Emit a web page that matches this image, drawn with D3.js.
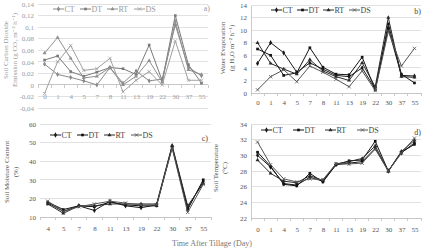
<!DOCTYPE html>
<meta charset="utf-8">
<style>
body { margin: 0; background: #fff; }
text { font-family: "Liberation Serif", "DejaVu Serif", serif; font-weight: normal; }
.grid line { stroke: #d9d9d9; stroke-width: 0.8; shape-rendering: crispEdges; }
.axis path, .axis line { fill: none; stroke: #bfbfbf; stroke-width: 0.8; shape-rendering: crispEdges; }
.series path.line { fill: none; stroke-width: 1; }
</style>
<body>
<script src="https://d3js.org/d3.v7.min.js"></script>
<script>

// categories
var days = ["0","1","4","5","7","8","11","13","19","22","30","37","55"];
var daysMoist = ["4","5","7","8","11","13","19","22","30","37","55"];
var seriesNames = ["CT","DT","RT","DS"];

// a) soil CO2 emission
var co2CT = [0.036, 0.018, 0.013, 0.007, 0.000, 0.030, 0.003, 0.024, 0.007, 0.010, 0.104, 0.030, 0.016];
var co2DT = [0.043, 0.050, 0.023, 0.015, 0.022, 0.030, 0.028, 0.018, 0.069, 0.007, 0.120, 0.035, 0.003];
var co2RT = [0.055, 0.082, 0.046, 0.012, 0.015, 0.030, 0.000, 0.015, 0.042, 0.005, 0.110, 0.026, 0.018];
var co2DS = [-0.015, 0.040, 0.068, 0.025, 0.028, 0.046, -0.012, 0.008, 0.023, 0.000, 0.076, 0.008, 0.008];
var co2Ticks = [-0.04, -0.02, 0, 0.02, 0.04, 0.06, 0.08, 0.1, 0.12, 0.14];

// b) water evaporation
var evapCT = [4.7, 8.0, 6.4, 3.3, 4.8, 3.8, 2.8, 2.6, 4.0, 0.6, 10.3, 2.8, 2.7];
var evapDT = [7.0, 6.0, 2.8, 3.2, 7.2, 4.1, 3.0, 2.9, 5.7, 0.5, 11.0, 3.0, 1.6];
var evapRT = [8.0, 4.7, 3.8, 3.0, 5.3, 3.5, 2.6, 2.0, 4.8, 1.0, 12.0, 2.6, 2.5];
var evapDS = [0.5, 2.6, 3.7, 1.8, 4.3, 3.3, 2.2, 1.0, 3.5, 0.4, 9.8, 4.3, 7.1];
var evapTicks = [0, 2, 4, 6, 8, 10, 12, 14];

// c) soil moisture
var moistCT = [17.5, 13.0, 16.0, 13.5, 18.5, 16.0, 15.0, 16.5, 48.0, 15.0, 29.0];
var moistDT = [18.0, 14.0, 16.0, 15.5, 18.0, 16.5, 16.0, 16.0, 47.5, 14.0, 30.0];
var moistRT = [17.0, 12.0, 16.0, 16.0, 17.0, 17.0, 17.0, 17.0, 48.5, 16.0, 28.0];
var moistDS = [18.5, 13.0, 15.5, 17.0, 18.5, 17.5, 16.5, 16.5, 47.0, 12.5, 27.5];
var moistTicks = [10, 20, 30, 40, 50, 60];

// d) soil temperature
var tempCT = [30.0, 28.5, 26.4, 26.2, 27.2, 26.7, 28.8, 29.0, 29.2, 30.9, 28.0, 30.3, 31.6];
var tempDT = [30.4, 28.6, 26.3, 26.1, 27.7, 26.6, 28.8, 29.3, 29.4, 31.8, 28.0, 30.4, 31.4];
var tempRT = [29.4, 27.7, 26.7, 26.5, 27.4, 26.8, 28.9, 29.2, 29.6, 31.2, 28.0, 30.5, 31.9];
var tempDS = [31.7, 28.8, 27.0, 26.6, 27.0, 26.9, 28.9, 28.9, 29.0, 30.8, 28.0, 30.3, 32.2];
var tempTicks = [22, 24, 26, 28, 30, 32, 34];

var W = 423, H = 250;
var svg = d3.select("body").append("svg").attr("width", W).attr("height", H);

var symbolTypes = {
  CT: d3.symbolDiamond,
  DT: d3.symbolSquare,
  RT: d3.symbolTriangle,
  DS: d3.symbolTimes || d3.symbolX
};
var symbolSizes = { CT: 8, DT: 7, RT: 7, DS: 9 };

function marker(sel, name, color) {
  sel.attr("d", d3.symbol().type(symbolTypes[name]).size(symbolSizes[name])())
    .attr("fill", name === "DS" ? "none" : color)
    .attr("stroke", name === "DS" ? color : "none")
    .attr("stroke-width", 0.8);
}

function drawPanel(p) {
  var x = d3.scalePoint().domain(p.cats).range([p.x0, p.x1]).padding(0.5);
  var y = d3.scaleLinear().domain([p.ticks[0], p.ticks[p.ticks.length - 1]]).range([p.y1, p.y0]);
  var g = svg.append("g");

  // gridlines
  g.append("g").attr("class", "grid")
    .selectAll("line").data(p.ticks).join("line")
    .attr("x1", p.x0).attr("x2", p.x1)
    .attr("y1", d => y(d)).attr("y2", d => y(d));

  // y axis
  var yAxis = d3.axisLeft(y).tickValues(p.ticks).tickSize(0).tickPadding(4)
    .tickFormat(p.fmt);
  var ya = g.append("g").attr("class", "axis")
    .attr("transform", `translate(${p.x0},0)`).call(yAxis);
  if (!p.yLine) ya.select(".domain").remove();
  ya.selectAll("text").style("font-size", "7px").attr("fill", p.textColor);

  // x axis at baseline
  var xBase = p.xAt !== undefined ? y(p.xAt) : p.y1;
  var xAxis = d3.axisBottom(x).tickSize(0).tickPadding(p.xPad);
  var xa = g.append("g").attr("class", "axis")
    .attr("transform", `translate(0,${xBase})`).call(xAxis);
  xa.select(".domain").attr("d", `M${p.x0},0H${p.x1}`);
  xa.selectAll("text").style("font-size", "7px").attr("fill", p.textColor);
  // small category separators
  var step = x.step();
  xa.selectAll(".sep").data(d3.range(p.cats.length + 1)).join("line")
    .attr("class", "sep")
    .attr("x1", i => p.x0 + i * step).attr("x2", i => p.x0 + i * step)
    .attr("y1", 0).attr("y2", 3);

  // series
  var line = d3.line().x((d, i) => x(p.cats[i])).y(d => y(d));
  seriesNames.forEach(function(name, k) {
    var vals = p.values[k];
    var s = g.append("g").attr("class", "series");
    s.append("path").attr("class", "line").attr("d", line(vals))
      .attr("stroke", p.colors[k]);
    s.selectAll("path.pt").data(vals).join("path")
      .attr("class", "pt")
      .attr("transform", (d, i) => `translate(${x(p.cats[i])},${y(d)})`)
      .call(marker, name, p.colors[k]);
  });

  // legend
  var lx = d3.scalePoint().domain(seriesNames).range([p.legX, p.legX + 3 * p.legStep]);
  var leg = g.selectAll(".leg").data(seriesNames).join("g")
    .attr("transform", d => `translate(${lx(d)},${p.legY})`);
  leg.append("line").attr("x1", 0).attr("x2", 11).attr("y1", 0).attr("y2", 0)
    .attr("stroke", (d, i) => p.colors[i]).attr("stroke-width", 1);
  leg.append("path").attr("transform", "translate(5.5,0)")
    .each(function(d, i) { d3.select(this).call(marker, d, p.colors[i]); });
  leg.append("text").attr("x", 11.5).attr("dy", "0.35em")
    .style("font-size", "8px").attr("fill", p.legColor).text(d => d);

  // panel letter
  g.append("text").attr("x", p.letX).attr("y", p.letY).attr("text-anchor", "end")
    .style("font-size", "8px").attr("fill", p.legColor).text(p.letter);

  // y title
  p.title.forEach(function(t, i) {
    g.append("text")
      .attr("transform", `translate(${p.titleX + i * 9},${p.titleY}) rotate(-90)`)
      .attr("text-anchor", "middle")
      .style("font-size", "7px").attr("fill", p.textColor).text(t);
  });
}

var comma = d => String(d).replace(".", ",");
var greyCols = ["#8a8a8a", "#7a7a7a", "#8f8f8f", "#a0a0a0"];
var darkCols = ["#1a1a1a", "#111111", "#2a2a2a", "#555555"];

drawPanel({
  cats: days, values: [co2CT, co2DT, co2RT, co2DS], ticks: co2Ticks, fmt: comma,
  x0: 38, x1: 208, y0: 4, y1: 108, xAt: 0, xPad: 9, yLine: false,
  colors: greyCols, textColor: "#9a9a9a", legColor: "#9a9a9a",
  legX: 53, legY: 9, legStep: 27, letter: "a)", letX: 210, letY: 11,
  title: ["Soil Carbon Dioxide", "Emission (g CO\u2082 m\u207B\u00B2 h\u207B\u00B9)"], titleX: 8, titleY: 50
});

drawPanel({
  cats: days, values: [evapCT, evapDT, evapRT, evapDS], ticks: evapTicks, fmt: d3.format("d"),
  x0: 251, x1: 421, y0: 5, y1: 93, xPad: 7, yLine: true,
  colors: darkCols, textColor: "#555", legColor: "#444",
  legX: 271, legY: 10, legStep: 26, letter: "b)", letX: 421, letY: 14,
  title: ["Water Evaporation", "(g H\u2082O m\u207B\u00B2 h\u207B\u00B9)"], titleX: 225, titleY: 48
});

drawPanel({
  cats: daysMoist, values: [moistCT, moistDT, moistRT, moistDS], ticks: moistTicks, fmt: d3.format("d"),
  x0: 40, x1: 211, y0: 124, y1: 217, xPad: 9, yLine: false,
  colors: darkCols, textColor: "#555", legColor: "#444",
  legX: 50, legY: 135, legStep: 27, letter: "c)", letX: 208, letY: 141,
  title: ["Soil Moisture Content", "(%)"], titleX: 9, titleY: 172
});

drawPanel({
  cats: days, values: [tempCT, tempDT, tempRT, tempDS], ticks: tempTicks, fmt: d3.format("d"),
  x0: 251, x1: 421, y0: 124, y1: 218, xPad: 9, yLine: true,
  colors: darkCols, textColor: "#555", legColor: "#444",
  legX: 261, legY: 130, legStep: 32, letter: "d)", letX: 421, letY: 135,
  title: ["Soil Temperature", "(\u00B0C)"], titleX: 218, titleY: 168
});

svg.append("text").attr("x", 212).attr("y", 246).attr("text-anchor", "middle")
  .style("font-size", "8px").attr("fill", "#777").text("Time After Tillage (Day)");

</script>
</body>
